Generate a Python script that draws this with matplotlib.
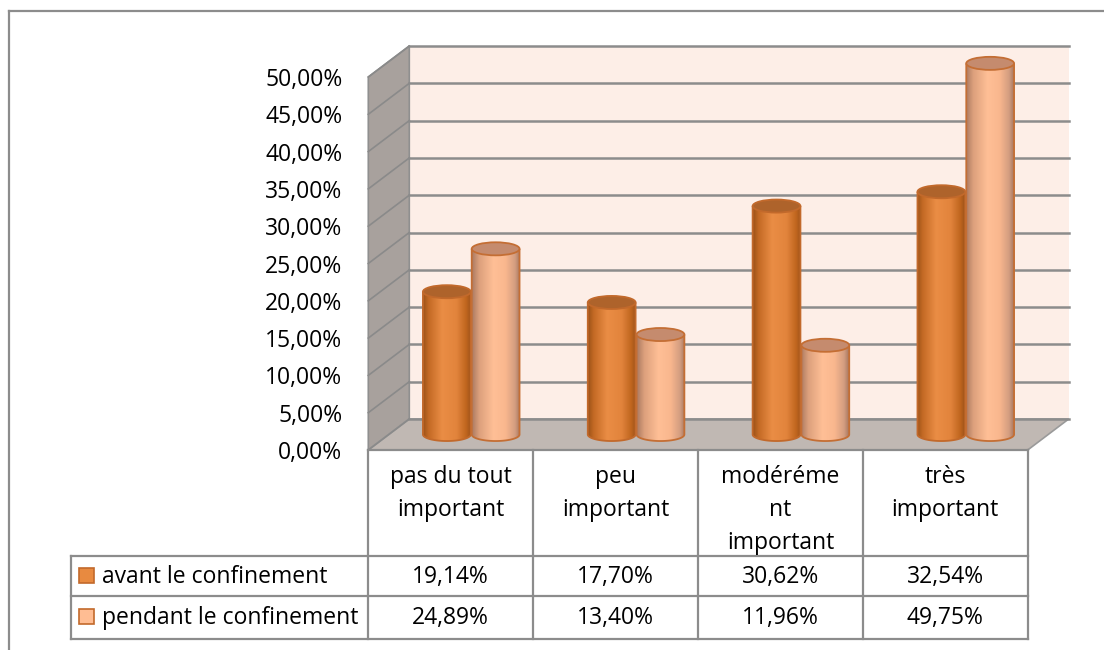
import numpy as np
import matplotlib
matplotlib.use('Agg')
import matplotlib.pyplot as plt
import matplotlib.transforms as mtransforms
from matplotlib.patches import Polygon, Ellipse, Rectangle
from matplotlib.lines import Line2D
from matplotlib.colors import LinearSegmentedColormap

# données
categories = ["pas du tout\nimportant", "peu\nimportant", "modéréme\nnt\nimportant", "très\nimportant"]
series_names = ["avant le confinement", "pendant le confinement"]
avant = [19.14, 17.70, 30.62, 32.54]
pendant = [24.89, 13.40, 11.96, 49.75]
y_ticks = [0, 5, 10, 15, 20, 25, 30, 35, 40, 45, 50]


def fmt_pct(v):
    return f"{v:.2f}%".replace('.', ',')


W, H, DPI = 1104, 650, 100
plt.rcParams['font.family'] = ['Open Sans', 'DejaVu Sans']
FS = 16.5
GRID = '#8c8c8c'

fig = plt.figure(figsize=(W / DPI, H / DPI), dpi=DPI)
fig.patch.set_facecolor('white')

# plan avant de la boite 3D (pixels, origine en haut a gauche)
X0, X1, Y0, Y1 = 368.3, 1027.7, 450, 77
ax = fig.add_axes([X0 / W, 1 - Y0 / H, (X1 - X0) / W, (Y0 - Y1) / H])
ax.set_xlim(0, 4)
ax.set_ylim(0, 50)
ax.axis('off')

# profondeur de la boite
DX, DY = 41, 31
ident = mtransforms.IdentityTransform()
# repere pixel avec origine en haut a gauche
tpx = mtransforms.Affine2D().scale(1 / W, -1 / H).translate(0, 1) + fig.transFigure


def depth(frac):
    return ax.transData + mtransforms.Affine2D().translate(DX * frac, DY * frac)


def pix(x, y, frac):
    px = ax.transData.transform((x, y))
    return (px[0] + DX * frac, px[1] + DY * frac)


nc = len(categories)
ymax = y_ticks[-1]

# murs et sol
ax.add_patch(Polygon([(0, 0), (nc, 0), (nc, ymax), (0, ymax)], closed=True, transform=depth(1),
                     facecolor='#fdeee7', edgecolor='none', zorder=1, clip_on=False))
ax.add_patch(Polygon([pix(0, 0, 0), pix(0, ymax, 0), pix(0, ymax, 1), pix(0, 0, 1)], closed=True,
                     transform=ident, facecolor='#a8a19d', edgecolor='#8f8f8f', lw=1.2, zorder=1, clip_on=False))
ax.add_patch(Polygon([pix(0, 0, 0), pix(nc, 0, 0), pix(nc, 0, 1), pix(0, 0, 1)], closed=True,
                     transform=ident, facecolor='#c0b8b3', edgecolor='#9a9a9a', lw=1.2, zorder=1, clip_on=False))

# quadrillage
for v in y_ticks:
    ax.add_line(Line2D([0, nc], [v, v], transform=depth(1), color=GRID, lw=1.8, zorder=2, clip_on=False))
    a, b = pix(0, v, 0), pix(0, v, 1)
    ax.add_line(Line2D([a[0], b[0]], [a[1], b[1]], transform=ident, color='#8a8a8a', lw=1.2, zorder=2,
                       clip_on=False))
    ax.text(0, v, fmt_pct(v), transform=mtransforms.offset_copy(ax.transData, fig, x=-26, y=-3, units='dots'),
            ha='right', va='center', fontsize=FS, color='black', clip_on=False)

# cylindres
orange_cmap = LinearSegmentedColormap.from_list(
    'orange', [(0, '#9c5218'), (0.12, '#c46a25'), (0.4, '#ea8d45'), (0.7, '#e2843c'), (0.9, '#c0661f'), (1, '#9e531a')])
pink_cmap = LinearSegmentedColormap.from_list(
    'pink', [(0, '#ab7a62'), (0.15, '#dca07c'), (0.45, '#ffbf96'), (0.7, '#f9b78e'), (0.9, '#d39d80'), (1, '#a87860')])
styles = [
    dict(cmap=orange_cmap, top='#ae632b', edge='#c2692b'),
    dict(cmap=pink_cmap, top='#c58b6e', edge='#c46e34'),
]
cyl_w = 0.29
eh = 1.75
offsets = [-0.148, 0.148]
grad = np.linspace(0, 1, 256).reshape(1, -1)


def draw_cylinder(xc, top, st, z):
    tr = depth(0.5)
    x0, x1 = xc - cyl_w / 2, xc + cyl_w / 2
    t = np.linspace(np.pi, 2 * np.pi, 60)
    lower = list(zip(xc + cyl_w / 2 * np.cos(t), eh / 2 * np.sin(t)))
    upper = list(zip(xc - cyl_w / 2 * np.cos(t), top - eh / 2 * np.sin(t)))
    # contour du fut (sans le haut) et zone de remplissage complete
    body = Polygon([(x0, top)] + lower + [(x1, top)], closed=False, transform=tr, facecolor='none',
                   edgecolor=st['edge'], lw=1.3, zorder=z + 0.2, clip_on=False)
    ax.add_patch(body)
    fill = Polygon(lower + upper, closed=True, transform=tr, facecolor='none', edgecolor='none')
    im = ax.imshow(grad, cmap=st['cmap'], extent=[x0, x1, -eh / 2, top + eh / 2], transform=tr,
                   aspect='auto', interpolation='bilinear', zorder=z)
    # le haut des cylindres depasse du cadre des axes
    im.set_clip_box(fig.bbox)
    im.set_clip_path(fill)
    cap = Ellipse((xc, top), cyl_w, eh, transform=tr, facecolor=st['top'], edgecolor=st['edge'],
                  lw=1.3, zorder=z + 0.3, clip_on=False)
    ax.add_patch(cap)


z = 3
for i in range(nc):
    for s, vals in enumerate([avant, pendant]):
        draw_cylinder(i + 0.5 + offsets[s], vals[i], styles[s], z)
        z += 1

ax.set_xlim(0, nc)
ax.set_ylim(0, ymax)

# tableau de donnees
col_px = [ax.transData.transform((i, 0))[0] for i in range(nc + 1)]
TL, T_HEAD, T_MID, T_BOT = 70.7, 555.7, 596, 639
lines = [
    ([col_px[0], col_px[-1]], [Y0, Y0]),
    ([TL, col_px[-1]], [T_HEAD, T_HEAD]),
    ([TL, col_px[-1]], [T_MID, T_MID]),
    ([TL, col_px[-1]], [T_BOT, T_BOT]),
    ([TL, TL], [T_HEAD, T_BOT]),
]
for cx in col_px:
    lines.append(([cx, cx], [Y0, T_BOT]))
for xs, ys in lines:
    fig.add_artist(Line2D(xs, ys, transform=tpx, color=GRID, lw=1.6, zorder=2))

for i, cat in enumerate(categories):
    cx = (col_px[i] + col_px[i + 1]) / 2
    for j, part in enumerate(cat.split('\n')):
        fig.text(cx, 483 + 33 * j, part, transform=tpx, ha='center', va='baseline', fontsize=FS)
    for r, vals in enumerate([avant, pendant]):
        fig.text(cx, 583 + 41 * r, fmt_pct(vals[i]), transform=tpx, ha='center', va='baseline', fontsize=FS)

legend_fill = ['#e88a40', '#ffbd93']
for r, name in enumerate(series_names):
    fig.add_artist(Rectangle((79, 568 + 41 * r), 15, 15, transform=tpx, facecolor=legend_fill[r],
                             edgecolor='#c2692b', lw=1.2))
    fig.text(101.7, 583 + 41 * r, name, transform=tpx, ha='left', va='baseline', fontsize=FS)

# cadre
fig.add_artist(Line2D([9, 9], [11, H], transform=tpx, color=GRID, lw=1.6))
fig.add_artist(Line2D([9, W], [11, 11], transform=tpx, color=GRID, lw=1.6))

fig.savefig('out.png', dpi=DPI, facecolor='white')
